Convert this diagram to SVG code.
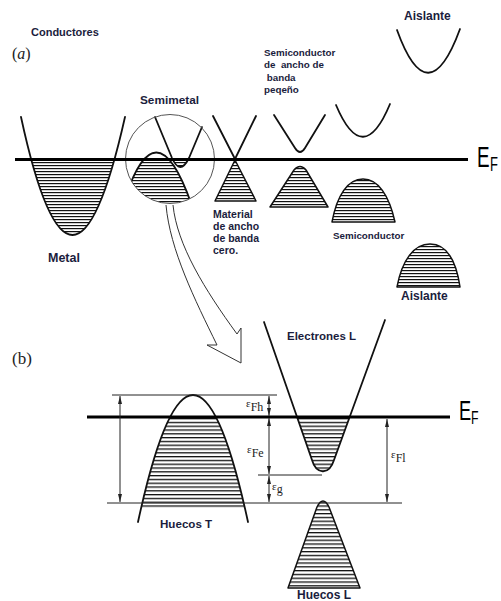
<svg xmlns="http://www.w3.org/2000/svg" width="501" height="601" viewBox="0 0 501 601">
<style>
.lbl{font-family:"Liberation Sans",Arial,sans-serif;font-weight:bold;fill:#1b1d3d}
.band{fill:none;stroke:#111;stroke-width:1.8;stroke-linejoin:round;stroke-linecap:round}
.hb{stroke:#111;stroke-width:1.5;stroke-linejoin:round}
.thin{fill:none;stroke:#222;stroke-width:1}
.ef{fill:none;stroke:#000;stroke-width:3}
.eps{font-family:"Liberation Serif","Times New Roman",serif;fill:#222}
.big{font-family:"Liberation Sans",Arial,sans-serif;fill:#000}
</style>
<defs>
<pattern id="hA" patternUnits="userSpaceOnUse" width="8" height="3"><rect width="8" height="3" fill="#fff"/><rect y="0" width="8" height="1.2" fill="#111"/></pattern>
<pattern id="hB" patternUnits="userSpaceOnUse" width="8" height="3.8"><rect width="8" height="3.8" fill="#fff"/><rect y="0" width="8" height="1.3" fill="#111"/></pattern>
<clipPath id="cMetal"><path d="M21,117 Q72,353 125,117 Z"/></clipPath>
<clipPath id="cCircle"><circle cx="170" cy="159" r="44.5"/></clipPath>
<clipPath id="cSmVal"><path d="M120,215 Q155,90 195,215 Z"/></clipPath>
<clipPath id="cSmCon"><path d="M155,117 L172,158 Q180,176 189,158 L202,127 Z"/></clipPath>
<clipPath id="cT"><path d="M138,522 Q193,268 248,522 Z"/></clipPath>
<clipPath id="cEL"><path d="M264,322 L312,460 C316,474 329,476 334,460 L385,320 Z"/></clipPath>
<marker id="ar" viewBox="0 0 8 4" refX="8" refY="2" markerWidth="8" markerHeight="4" markerUnits="userSpaceOnUse" orient="auto-start-reverse"><path d="M0,0 L8,2 L0,4 Z" fill="#222"/></marker>
</defs>

<g id="label-a"><text x="12" y="59" class="eps" font-size="16">(<tspan font-style="italic">a</tspan>)</text></g>
<g id="label-conductores"><text x="31" y="36" class="lbl" font-size="11">Conductores</text></g>

<g id="metal">
<rect x="15" y="160" width="115" height="80" fill="url(#hA)" clip-path="url(#cMetal)"/>
<path d="M21,117 Q72,353 125,117" class="band"/>
<text x="48" y="262" class="lbl" font-size="12.5">Metal</text>
</g>

<g id="semimetal">
<text x="140" y="104" class="lbl" font-size="11.8">Semimetal</text>
<g clip-path="url(#cCircle)">
<g clip-path="url(#cSmVal)"><rect x="115" y="160" width="90" height="46" fill="url(#hA)"/></g>
<path d="M120,215 Q155,90 195,215" class="band"/>
</g>
<rect x="160" y="160" width="35" height="12" fill="url(#hA)" clip-path="url(#cSmCon)"/>
<path d="M155,117 L172,158 Q180,176 189,158 L202,127" class="band"/>
<circle cx="170" cy="159" r="44.5" fill="none" stroke="#555" stroke-width="1"/>
</g>

<g id="zero-gap">
<path d="M213,116 L235,159 L256,116" class="band"/>
<path d="M235,160 L215,201 L256,201 Z" fill="url(#hA)" class="hb"/>
<text class="lbl" font-size="10.5"><tspan x="213" y="218">Material</tspan><tspan x="213" y="230">de ancho</tspan><tspan x="213" y="242">de banda</tspan><tspan x="213" y="254">cero.</tspan></text>
</g>

<g id="small-gap">
<text class="lbl" font-size="9.8" xml:space="preserve"><tspan x="264" y="56">Semiconductor</tspan><tspan x="264" y="68">de  ancho de</tspan><tspan x="264" y="81"> banda</tspan><tspan x="264" y="93">peqeño</tspan></text>
<path d="M274,115 L295,148 Q300,156 305,148 L325,115" class="band"/>
<path d="M270,207 L294,170 Q300,163 306,170 L328,207 Z" fill="url(#hA)" class="hb"/>
</g>

<g id="semiconductor">
<path d="M336,105 Q363,169 390,104" class="band"/>
<path d="M332,222 C337,195 348,179 363,179 C378,179 389,195 395,222 Z" fill="url(#hA)" class="hb"/>
<text x="333" y="239" class="lbl" font-size="9.8">Semiconductor</text>
</g>

<g id="insulator">
<text x="404" y="20" class="lbl" font-size="12">Aislante</text>
<path d="M397,30 Q428,116 460,29" class="band"/>
<path d="M397,287 C402,260 414,244 430,244 C446,244 456,260 460,287 Z" fill="url(#hA)" class="hb"/>
<text x="401" y="300" class="lbl" font-size="12">Aislante</text>
</g>

<g id="fermi-top">
<path d="M15,159.5 H468" class="ef"/>
<text class="big" font-size="29" transform="translate(477,167) scale(0.65,1)">E</text>
<text class="big" font-size="20" transform="translate(490,171) scale(0.65,1)">F</text>
</g>

<g id="label-b"><text x="12" y="364" class="eps" font-size="17">(b)</text></g>

<g id="T-holes">
<rect x="135" y="417" width="115" height="91" fill="url(#hB)" clip-path="url(#cT)"/>
<path d="M138,522 Q193,268 248,522" class="band"/>
<text x="160" y="528" class="lbl" font-size="11.6">Huecos T</text>
</g>

<g id="L-electrons">
<rect x="260" y="417" width="130" height="62" fill="url(#hB)" clip-path="url(#cEL)"/>
<path d="M264,322 L312,460 C316,474 329,476 334,460 L385,320" class="band"/>
<text x="287" y="340" class="lbl" font-size="11.5">Electrones L</text>
</g>

<g id="L-holes">
<path d="M288,588 L317,507 Q323,495 329,507 L360,588 Z" fill="url(#hB)" class="hb"/>
<text x="297" y="599" class="lbl" font-size="12">Huecos L</text>
</g>

<g id="fermi-bottom">
<path d="M87,417 H450" class="ef"/>
<text class="big" font-size="28" transform="translate(459,420) scale(0.65,1)">E</text>
<text class="big" font-size="19" transform="translate(471,424) scale(0.65,1)">F</text>
</g>

<g id="connectors">
<path d="M166,205 C170,250 195,300 217,345 L207,345 L241,363 L241,328 L237,334 C205,290 177,245 173,205" fill="none" stroke="#333" stroke-width="1" stroke-linejoin="miter"/>
<path d="M112,395 H277 M107,503 H402 M258,475 H322" class="thin"/>
<path d="M120,396 V502" class="thin" marker-start="url(#ar)" marker-end="url(#ar)"/>
<path d="M269,396 V416" class="thin" marker-start="url(#ar)" marker-end="url(#ar)"/>
<path d="M269,418 V474" class="thin" marker-start="url(#ar)" marker-end="url(#ar)"/>
<path d="M269,476 V502" class="thin" marker-start="url(#ar)" marker-end="url(#ar)"/>
<path d="M387,419 V502" class="thin" marker-start="url(#ar)" marker-end="url(#ar)"/>
</g>

<g id="dim-labels">
<text x="246" y="407" class="eps" font-size="11">ε<tspan font-size="12" dy="4">Fh</tspan></text>
<text x="247" y="453" class="eps" font-size="11">ε<tspan font-size="12" dy="4">Fe</tspan></text>
<text x="272" y="490" class="eps" font-size="11">ε<tspan font-size="12" dy="3">g</tspan></text>
<text x="391" y="458" class="eps" font-size="11">ε<tspan font-size="12" dy="4">Fl</tspan></text>
</g>
</svg>
